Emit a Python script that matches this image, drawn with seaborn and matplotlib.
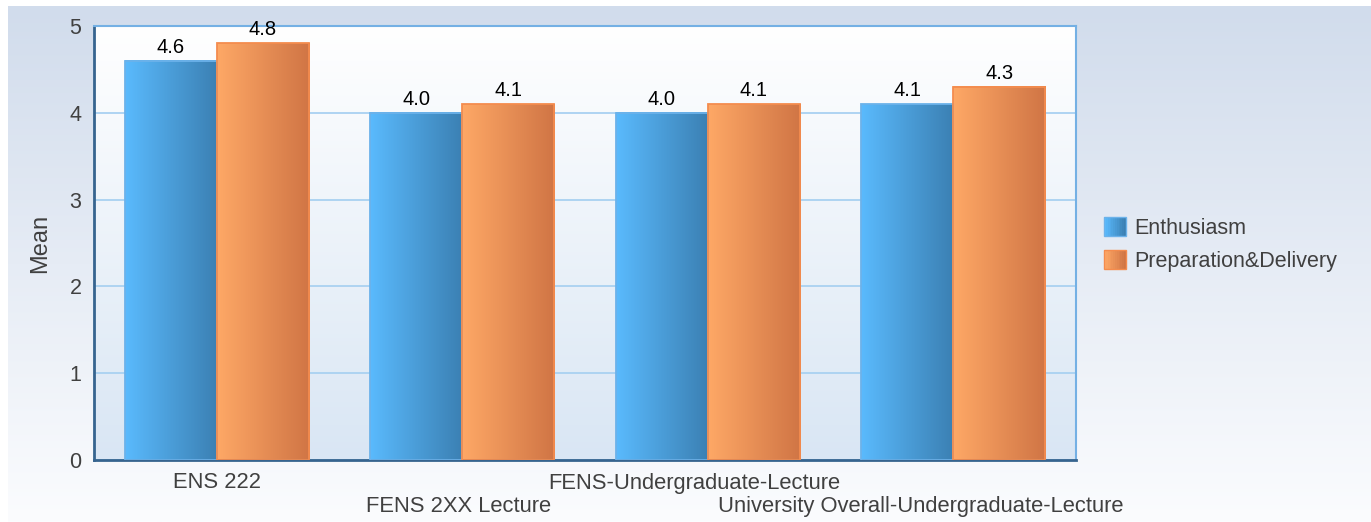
import numpy as np
import pandas as pd
import matplotlib
matplotlib.use("Agg")
import matplotlib.pyplot as plt
import seaborn as sns
from matplotlib.colors import LinearSegmentedColormap, to_rgb
from matplotlib.patches import Rectangle
from matplotlib.legend_handler import HandlerBase
from matplotlib.transforms import ScaledTranslation

categories = ["ENS 222", "FENS 2XX Lecture", "FENS-Undergraduate-Lecture",
              "University Overall-Undergraduate-Lecture"]
enthusiasm = [4.6, 4.0, 4.0, 4.1]
preparation = [4.8, 4.1, 4.1, 4.3]
series = ["Enthusiasm", "Preparation&Delivery"]

df = pd.DataFrame({
    "categoria": categories * 2,
    "serie": [series[0]] * 4 + [series[1]] * 4,
    "valor": enthusiasm + preparation,
})

# gradient colours (left -> right) and edges
grad = {
    series[0]: ("#5abafd", "#3b80b3"),
    series[1]: ("#fea866", "#d07545"),
}
edges = {series[0]: "#6cb2ea", series[1]: "#f48c4e"}

sns.set_style("white")
plt.rcParams["font.family"] = ["Liberation Sans", "DejaVu Sans"]

fig = plt.figure(figsize=(13.71, 5.22), dpi=100)
fig.patch.set_facecolor("white")

# figure background gradient
bg = fig.add_axes([8 / 1371, 0, 1 - 8 / 1371, 1 - 6 / 522], zorder=-10)
bg_cmap = LinearSegmentedColormap.from_list("bg", ["#fbfcfe", "#d1dcec"])
bg.imshow(np.linspace(0, 1, 256).reshape(-1, 1), cmap=bg_cmap, origin="lower",
          aspect="auto", extent=[0, 1, 0, 1])
bg.axis("off")

ax = fig.add_axes([94 / 1371, 1 - 460 / 522, 982 / 1371, 434 / 522])
ax.patch.set_alpha(0)

sns.barplot(data=df, x="categoria", y="valor", hue="serie", hue_order=series,
            palette=[grad[s][0] for s in series], width=0.75, ax=ax,
            saturation=1, legend=False)

ax.set_xlim(-0.5, 3.5)
ax.set_ylim(0, 5)

# plot area gradient
area_cmap = LinearSegmentedColormap.from_list("area", ["#d9e6f4", "#ffffff"])
ax.imshow(np.linspace(0, 1, 256).reshape(-1, 1), cmap=area_cmap, origin="lower",
          aspect="auto", extent=[0, 1, 0, 1], transform=ax.transAxes, zorder=0)

# gradient bars
for container, s in zip(ax.containers, series):
    cmap = LinearSegmentedColormap.from_list(s, list(grad[s]))
    for bar in container:
        x0, w, h = bar.get_x(), bar.get_width(), bar.get_height()
        ax.imshow(np.linspace(0, 1, 128).reshape(1, -1), cmap=cmap, aspect="auto",
                  extent=[x0, x0 + w, 0, h], zorder=2)
        bar.set_facecolor("none")
        bar.set_edgecolor(edges[s])
        bar.set_linewidth(1.3)
        bar.set_zorder(3)
    ax.bar_label(container, fmt="%.1f", padding=3, fontsize=14.5, color="black")

ax.set_xlim(-0.5, 3.5)
ax.set_ylim(0, 5)
ax.set_yticks([0, 1, 2, 3, 4, 5])
ax.yaxis.grid(True, color="#a9d1f1", linewidth=1.3, zorder=1)
ax.set_axisbelow(True)

ax.set_xlabel("")
ax.set_ylabel("Mean", fontsize=17, color="#404040", labelpad=13)
ax.tick_params(axis="y", labelsize=15.5, colors="#404040", length=0, pad=9)
ax.tick_params(axis="x", labelsize=15.8, colors="#404040", length=0)
# staggered labels, nudged left like the original renderer
shifts = [0, -4, -13, -33]
for i, t in enumerate(ax.xaxis.get_major_ticks()):
    t.set_pad(9 if i % 2 == 0 else 26)
    lab = t.label1
    lab.set_transform(lab.get_transform() +
                      ScaledTranslation(shifts[i] / 100, 0, fig.dpi_scale_trans))

for side in ["left", "bottom"]:
    ax.spines[side].set_color("#36648f")
    ax.spines[side].set_linewidth(2)
for side in ["top", "right"]:
    ax.spines[side].set_color("#74b0e4")
    ax.spines[side].set_linewidth(1.5)


class GradientHandler(HandlerBase):
    def __init__(self, c0, c1, ec):
        super().__init__()
        self.c0, self.c1, self.ec = np.array(to_rgb(c0)), np.array(to_rgb(c1)), ec

    def create_artists(self, legend, orig_handle, xdescent, ydescent, width,
                       height, fontsize, trans):
        n = 12
        arts = []
        for k in range(n):
            f = k / (n - 1)
            c = self.c0 * (1 - f) + self.c1 * f
            arts.append(Rectangle((-xdescent + width * k / n, -ydescent),
                                  width / n + 0.3, height, facecolor=c,
                                  edgecolor="none", transform=trans))
        arts.append(Rectangle((-xdescent, -ydescent), width, height,
                              facecolor="none", edgecolor=self.ec,
                              linewidth=1, transform=trans))
        return arts


handles = [Rectangle((0, 0), 1, 1) for _ in series]
ax.legend(handles, series, loc="center left", bbox_to_anchor=(1.009, 0.497),
          frameon=False, fontsize=15.5, labelcolor="#404040",
          handlelength=1.0, handleheight=1.0, handletextpad=0.4,
          labelspacing=0.5,
          handler_map={handles[i]: GradientHandler(grad[s][0], grad[s][1], edges[s])
                       for i, s in enumerate(series)})

fig.savefig("out.png", dpi=100)
